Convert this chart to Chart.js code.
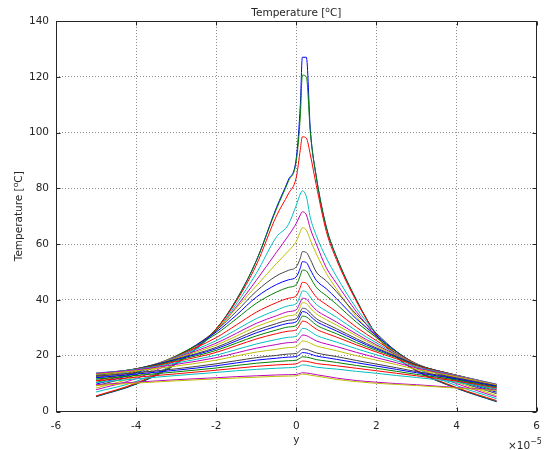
<!DOCTYPE html>
<html>
<head>
<meta charset="utf-8">
<script src="https://cdn.jsdelivr.net/npm/chart.js@4.4.1/dist/chart.umd.min.js"></script>
<style>
  html, body { margin: 0; padding: 0; background: #fff; }
</style>
</head>
<body>
<canvas id="chart" width="548" height="450"></canvas>
<script>
/* DATA */
// positions along y, in units of 1e-5
const yPos = [-5, -4, -3, -2, -1.5, -1, -0.5, -0.2, 0, 0.1, 0.15, 0.25, 0.35, 0.5, 0.75, 1, 1.5, 2, 2.5, 3, 4, 5];

// temperature profiles [degC], one array per run
const t01 = [5.3, 9.8, 17.0, 29.5, 40.0, 54.0, 73.0, 83.0, 91.0, 110, 127, 127, 101, 84, 66, 55.5, 40, 27.5, 19.5, 14.5, 8.3, 3.5];
const t02 = [5.4, 9.9, 17.2, 29.7, 40.0, 54.0, 72.5, 82.5, 90.0, 106, 120.6, 120, 100, 84, 66, 55.5, 40, 27.5, 19.5, 14.6, 8.4, 3.6];
const t03 = [5.6, 10.2, 17.4, 29.5, 39.5, 52.5, 70.0, 78.0, 84.0, 94, 98.5, 98, 92, 81, 64.5, 54.5, 39.5, 27.5, 19.5, 14.8, 8.6, 3.9];
const t04 = [7.0, 10.8, 17.6, 28.8, 38.5, 49.5, 62.5, 67.0, 74.0, 78, 79.1, 77, 69.5, 63, 55, 48.5, 37, 28, 20.5, 15.5, 9.3, 4.6];
const t05 = [7.8, 11.8, 18.5, 29.0, 37.5, 47.0, 57.0, 63.0, 67.5, 70.5, 71.6, 70.5, 65.5, 60, 51.5, 46, 35.8, 27, 20.5, 15.8, 10.0, 5.2];
const t06 = [8.4, 12.5, 19.0, 29.2, 37.0, 45.0, 53.0, 57.5, 61.0, 64.5, 65.9, 65, 61.5, 56.5, 49.5, 44, 34, 26.5, 20.5, 16, 10.5, 5.7];
const t07 = [9.2, 13.2, 19.5, 29.1, 35.8, 43.1, 48.6, 50.6, 51.9, 55.0, 57.3, 57.0, 54.5, 50.0, 46.8, 43, 34.8, 28, 21.5, 16.8, 11.0, 6.4];
const t08 = [9.8, 13.8, 19.8, 28.5, 34.5, 41.0, 45.5, 47.2, 48.3, 51.5, 53.7, 53.4, 50.8, 47.0, 44, 40.5, 33.2, 27.2, 21.5, 17, 11.4, 6.9];
const t09 = [10.4, 14.2, 20.0, 27.8, 33.2, 38.8, 42.8, 44.5, 45.5, 48.8, 50.7, 50.4, 48, 44.5, 41.5, 38.5, 32, 26.5, 21.3, 17.1, 11.8, 7.3];
const t10 = [11.0, 14.6, 19.8, 26.5, 31.0, 35.6, 39.0, 40.6, 41.5, 44.6, 46.3, 46.0, 44.0, 41, 38.3, 35.8, 30.2, 25.4, 20.9, 17.1, 12.1, 7.8];
const t11 = [11.6, 14.9, 19.6, 25.4, 29.3, 33.3, 36.3, 37.9, 38.7, 41.6, 43.2, 42.9, 41.0, 38.4, 36, 33.8, 28.9, 24.6, 20.6, 17, 12.4, 8.2];
const t12 = [12.1, 15.1, 19.3, 24.5, 28.0, 31.6, 34.3, 35.8, 36.5, 39.2, 40.6, 40.3, 38.6, 36.3, 34.1, 32.1, 27.8, 23.9, 20.3, 16.9, 12.6, 8.6];
const t13 = [12.5, 15.2, 19.1, 23.8, 27.0, 30.4, 33.0, 34.3, 35.0, 37.6, 39.0, 38.7, 37.1, 35, 32.9, 31, 27.1, 23.4, 20.1, 16.9, 12.8, 8.9];
const t14 = [12.8, 15.3, 18.8, 23.0, 26.0, 29.1, 31.5, 32.7, 33.3, 35.7, 37.0, 36.7, 35.3, 33.3, 31.4, 29.7, 26.1, 22.8, 19.8, 16.8, 12.9, 9.2];
const t15 = [13.1, 15.3, 18.6, 22.5, 25.3, 28.2, 30.5, 31.6, 32.2, 34.6, 35.8, 35.5, 34.2, 32.3, 30.5, 28.9, 25.5, 22.4, 19.6, 16.7, 13.0, 9.4];
const t16 = [13.4, 15.3, 18.3, 21.9, 24.5, 27.1, 29.2, 30.3, 30.8, 33.0, 34.2, 33.9, 32.8, 31, 29.3, 27.9, 24.7, 21.9, 19.3, 16.6, 13.0, 9.6];
const t17 = [13.6, 15.2, 17.9, 21.2, 23.6, 26.0, 27.9, 28.8, 29.3, 31.3, 32.4, 32.1, 31.1, 29.5, 28, 26.7, 23.9, 21.3, 18.9, 16.4, 13.0, 9.7];
const t18 = [13.8, 15.1, 17.4, 20.2, 22.2, 24.2, 25.8, 26.6, 27.0, 28.8, 29.8, 29.6, 28.7, 27.3, 26, 24.9, 22.5, 20.3, 18.2, 16, 12.9, 9.8];
const t19 = [13.7, 14.9, 16.9, 19.3, 21.0, 22.7, 24.0, 24.7, 25.0, 26.6, 27.4, 27.2, 26.5, 25.3, 24.2, 23.3, 21.2, 19.3, 17.5, 15.6, 12.7, 9.7];
const t20 = [13.3, 14.6, 16.3, 18.4, 19.9, 21.3, 22.3, 22.9, 23.2, 24.6, 25.3, 25.1, 24.5, 23.5, 22.6, 21.8, 20, 18.4, 16.8, 15.1, 12.5, 9.5];
const t21 = [12.6, 13.9, 15.3, 17.1, 18.2, 19.3, 20.1, 20.6, 20.8, 21.9, 22.4, 22.3, 21.8, 21, 20.3, 19.7, 18.3, 17, 15.7, 14.3, 12, 9.2];
const t22 = [12.1, 13.4, 14.8, 16.4, 17.4, 18.4, 19.1, 19.5, 19.7, 20.6, 21.1, 21.0, 20.6, 19.9, 19.3, 18.7, 17.5, 16.3, 15.1, 13.9, 11.7, 9.0];
const t23 = [11.6, 12.9, 14.2, 15.6, 16.5, 17.3, 17.9, 18.2, 18.4, 19.2, 19.6, 19.5, 19.2, 18.6, 18.1, 17.6, 16.5, 15.5, 14.4, 13.3, 11.3, 8.7];
const t24 = [11.0, 12.3, 13.5, 14.8, 15.5, 16.2, 16.7, 16.9, 17.1, 17.8, 18.1, 18.0, 17.7, 17.2, 16.8, 16.4, 15.5, 14.6, 13.7, 12.8, 10.9, 8.4];
const t25 = [10.4, 11.7, 12.9, 14.0, 14.6, 15.1, 15.5, 15.7, 15.9, 16.4, 16.7, 16.6, 16.3, 15.9, 15.5, 15.2, 14.4, 13.7, 12.9, 12.2, 10.5, 8.1];
const t26 = [9.6, 10.5, 11.4, 12.1, 12.5, 12.8, 13.1, 13.2, 13.3, 13.7, 13.9, 13.8, 13.6, 13.2, 12.6, 12.0, 11.1, 10.5, 10.0, 9.6, 8.6, 7.7];
const t27 = [9.3, 10.2, 11.0, 11.7, 12.0, 12.3, 12.6, 12.7, 12.8, 13.2, 13.4, 13.3, 13.0, 12.7, 12.1, 11.5, 10.7, 10.1, 9.7, 9.3, 8.4, 7.5];

const runs = [t01, t02, t03, t04, t05, t06, t07, t08, t09, t10, t11, t12, t13, t14,
              t15, t16, t17, t18, t19, t20, t21, t22, t23, t24, t25, t26, t27];

const xTicks = [-6, -4, -2, 0, 2, 4, 6];
const yTicks = [0, 20, 40, 60, 80, 100, 120, 140];

/* STYLE */
const lineColors = ["#0000ff", "#008000", "#ff0000", "#00bfbf", "#bf00bf", "#bfbf00", "#404040"];
const FONT = '"DejaVu Sans", Verdana, sans-serif';
const INK = "#262626";

// text with a raised small part, e.g. degree sign or exponent
function drawSup(ctx, parts, x, y, align) {
  const widths = parts.map(p => { ctx.font = p.size + "px " + FONT; return ctx.measureText(p.text).width; });
  const total = widths.reduce((a, b) => a + b, 0);
  let cx = align === "center" ? x - total / 2 : x;
  ctx.textAlign = "left";
  ctx.textBaseline = "alphabetic";
  parts.forEach((p, i) => {
    ctx.font = p.size + "px " + FONT;
    ctx.fillText(p.text, cx, y - (p.rise || 0));
    cx += widths[i];
  });
}

const titleParts = [
  { text: "Temperature [", size: 10.5 },
  { text: "o", size: 7.5, rise: 4.5 },
  { text: "C]", size: 10.5 }
];

/* FRAME, INWARD TICKS, LABELS */
const framePlugin = {
  id: "frame",
  afterDraw(chart) {
    const { ctx, chartArea: a, scales: { x, y } } = chart;
    const L = Math.round(a.left) + 0.5, R = Math.round(a.right) - 0.5;
    const T = Math.round(a.top) + 0.5, B = Math.round(a.bottom) - 0.5;
    ctx.save();
    ctx.strokeStyle = INK;
    ctx.lineWidth = 1;
    ctx.strokeRect(L, T, R - L, B - T);

    ctx.beginPath();
    xTicks.forEach(v => {
      const px = Math.round(x.getPixelForValue(v)) + 0.5;
      ctx.moveTo(px, B); ctx.lineTo(px, B - 4);
      ctx.moveTo(px, T); ctx.lineTo(px, T + 4);
    });
    yTicks.forEach(v => {
      const py = Math.round(y.getPixelForValue(v)) + 0.5;
      ctx.moveTo(L, py); ctx.lineTo(L + 4, py);
      ctx.moveTo(R, py); ctx.lineTo(R - 4, py);
    });
    ctx.stroke();

    ctx.fillStyle = INK;
    const cx = (a.left + a.right) / 2;
    drawSup(ctx, titleParts, cx, 16, "center");

    // y axis title
    ctx.save();
    ctx.translate(22, (a.top + a.bottom) / 2);
    ctx.rotate(-Math.PI / 2);
    drawSup(ctx, titleParts, 0, 0, "center");
    ctx.restore();

    // x axis title and multiplier
    ctx.font = "10.5px " + FONT;
    ctx.textAlign = "center";
    ctx.textBaseline = "alphabetic";
    ctx.fillText("y", cx, 443);
    drawSup(ctx, [
      { text: "\u00d710", size: 10.5 },
      { text: "\u22125", size: 8, rise: 5 }
    ], 508, 449, "left");
    ctx.restore();
  }
};

/* CHART */
const ctx = document.getElementById("chart");

new Chart(ctx, {
  type: "line",
  data: {
    datasets: runs.map((run, i) => ({
      data: run.map((v, j) => ({ x: yPos[j], y: v })),
      borderColor: lineColors[i % lineColors.length],
      backgroundColor: lineColors[i % lineColors.length],
      borderWidth: 1,
      pointRadius: 0,
      cubicInterpolationMode: "monotone",
      fill: false,
      order: -i
    }))
  },
  options: {
    responsive: false,
    animation: false,
    layout: { padding: { top: 21, right: 8, left: 0, bottom: 0 } },
    plugins: {
      legend: { display: false },
      tooltip: { enabled: false }
    },
    scales: {
      x: {
        type: "linear",
        min: -6,
        max: 6,
        afterFit: s => { s.height = 38.5; },
        afterBuildTicks: s => { s.ticks = xTicks.map(v => ({ value: v })); },
        ticks: { color: INK, font: { family: FONT, size: 10.5 }, padding: 8, maxRotation: 0 },
        grid: {
          drawTicks: false,
          color: c => (c.tick && (c.tick.value === -6 || c.tick.value === 6)) ? "rgba(0,0,0,0)" : "#8c8c8c",
          lineWidth: 1
        },
        border: { display: false, dash: [1, 2] }
      },
      y: {
        min: 0,
        max: 140,
        afterFit: s => { s.width = 56; },
        afterBuildTicks: s => { s.ticks = yTicks.map(v => ({ value: v })); },
        ticks: { color: INK, font: { family: FONT, size: 10.5 }, padding: 7 },
        grid: {
          drawTicks: false,
          color: c => (c.tick && (c.tick.value === 0 || c.tick.value === 140)) ? "rgba(0,0,0,0)" : "#8c8c8c",
          lineWidth: 1
        },
        border: { display: false, dash: [1, 2] }
      }
    }
  },
  plugins: [framePlugin]
});
</script>
</body>
</html>
